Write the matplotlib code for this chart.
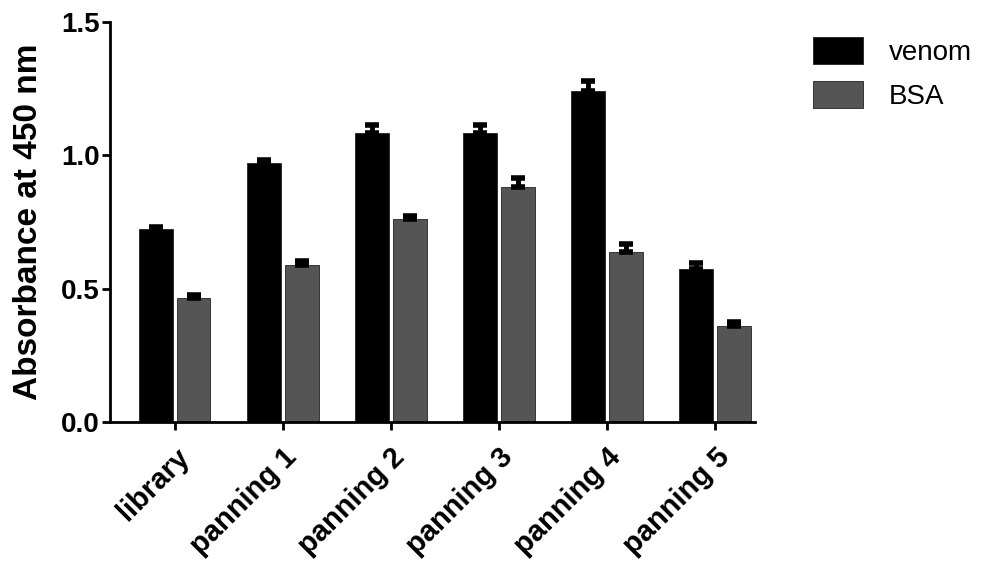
import numpy as np
import matplotlib.pyplot as plt

plt.rcParams['font.family'] = ['Liberation Sans', 'DejaVu Sans']

categories = ['library', 'panning 1', 'panning 2', 'panning 3', 'panning 4', 'panning 5']
venom = [0.725, 0.971, 1.085, 1.085, 1.241, 0.575]
venom_err = [0.006, 0.013, 0.030, 0.030, 0.036, 0.020]
bsa = [0.465, 0.590, 0.763, 0.881, 0.637, 0.359]
bsa_err = [0.010, 0.015, 0.010, 0.034, 0.032, 0.015]

fig = plt.figure(figsize=(10, 5.71), dpi=100)
ax = fig.add_axes([0.11, 0.261, 0.645, 0.7005])

x = np.arange(len(categories))
w = 0.31
off = 0.175

for xs, vals, errs, col, lab in [(x - off, venom, venom_err, 'black', 'venom'),
                                 (x + off, bsa, bsa_err, '#555555', 'BSA')]:
    ax.bar(xs, vals, w, color=col, edgecolor='#222222', linewidth=0.6, label=lab)
    ax.errorbar(xs, vals, yerr=[np.zeros(len(errs)), errs], fmt='none',
                ecolor='black', elinewidth=3.5, capsize=5, capthick=4)

ax.set_xlim(-0.6, 5.37)
ax.set_ylim(0, 1.5)
ax.set_yticks([0, 0.5, 1.0, 1.5])
ax.set_yticklabels(['0.0', '0.5', '1.0', '1.5'], fontsize=20, fontweight='bold')
ax.set_xticks(x)
ax.set_xticklabels(categories, rotation=45, ha='right', rotation_mode='anchor',
                   fontsize=21, fontweight='bold')
ax.set_ylabel('Absorbance at 450 nm', fontsize=24, fontweight='bold', labelpad=12)

for s in ['top', 'right']:
    ax.spines[s].set_visible(False)
for s in ['left', 'bottom']:
    ax.spines[s].set_linewidth(2)
ax.tick_params(width=2, length=6, direction='out')
ax.tick_params(axis='x', pad=9)
ax.tick_params(axis='y', pad=1.5)

ax.legend(loc='upper left', bbox_to_anchor=(1.072, 0.99), frameon=False, fontsize=20,
          borderaxespad=0, handlelength=1.8, handleheight=1.1, handletextpad=0.95,
          labelspacing=0.55)

plt.savefig('out.png', dpi=100)
